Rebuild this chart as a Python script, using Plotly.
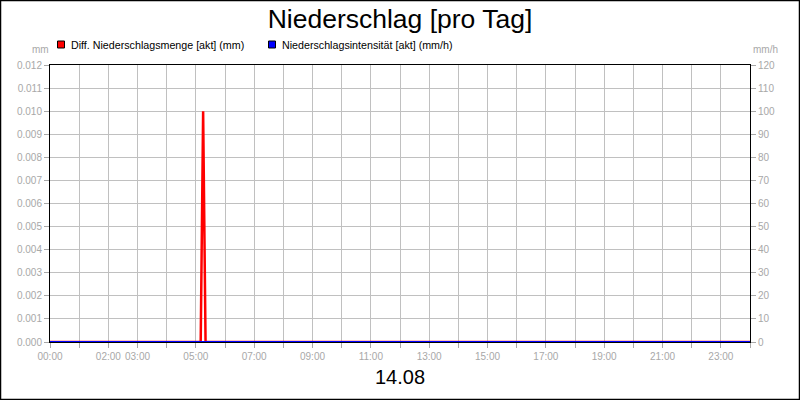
"""
Niederschlag pro Tag - Tagesverlauf 14.08
"""

import plotly.graph_objects as go

# Zeitpunkte in Stunden des Tages
hours = [0.0, 5.0, 5.1667, 5.25, 5.3333, 5.5, 24.0]
# Diff. Niederschlagsmenge [akt] (mm)
menge_mm = [0.0, 0.0, 0.0, 0.010, 0.0, 0.0, 0.0]
# Niederschlagsintensitaet [akt] (mm/h)
intensitaet_mmh = [0.0, 0.0, 0.0, 0.0, 0.0, 0.0, 0.0]

series_names = ["Diff. Niederschlagsmenge [akt] (mm)", "Niederschlagsintensität [akt] (mm/h)"]
series_colors = ["#ff0000", "#0000ff"]

tick_hours = list(range(0, 25))
tick_labels = ["00:00", "", "02:00", "03:00", "", "05:00", "", "07:00", "", "09:00",
               "", "11:00", "", "13:00", "", "15:00", "", "17:00", "", "19:00",
               "", "21:00", "", "23:00", ""]

W, H = 800, 400
L, R, T, B = 50, 50, 65, 58
pw, ph = W - L - R, H - T - B

FONT = "Liberation Sans, Arial, sans-serif"
GREY = "#a8a8a8"
GRID = "#c0c0c0"


def px_x(x):
    """Pixel-x im Bild -> paper-Koordinate"""
    return (x - L) / pw


def px_y(y):
    """Pixel-y im Bild -> paper-Koordinate"""
    return (H - B - y) / ph


fig = go.Figure()

# Intensitaet (rechte Achse) zuerst, damit die rote Linie drueber liegt
fig.add_trace(go.Scatter(
    x=hours, y=intensitaet_mmh, mode="lines", yaxis="y2",
    name=series_names[1], line=dict(color=series_colors[1], width=2)
))
fig.add_trace(go.Scatter(
    x=hours, y=menge_mm, mode="lines",
    name=series_names[0], line=dict(color=series_colors[0], width=2.5)
))

axis_common = dict(
    showline=True, linecolor="black", linewidth=1,
    ticks="outside", ticklen=5, tickcolor=GREY, zeroline=False,
    tickfont=dict(size=10, color=GREY), automargin=False, tickangle=0,
)

fig.update_layout(
    width=W, height=H,
    margin=dict(l=L, r=R, t=T, b=B),
    paper_bgcolor="white", plot_bgcolor="white",
    font=dict(family=FONT, size=10, color=GREY),
    title=dict(text="Niederschlag [pro Tag]", x=0.5, xanchor="center",
               y=1 - 19 / H, yanchor="middle", yref="container",
               font=dict(size=26.5, color="black")),
    showlegend=False,
    xaxis=dict(range=[0, 24], tickvals=tick_hours, ticktext=tick_labels,
               showgrid=True, gridcolor=GRID, gridwidth=1, mirror=True,
               **axis_common),
    yaxis=dict(range=[0, 0.012], dtick=0.001, tickformat=".3f",
               showgrid=True, gridcolor=GRID, gridwidth=1, mirror=True,
               **axis_common),
    yaxis2=dict(range=[0, 120], dtick=10, overlaying="y", side="right",
                showgrid=False, **axis_common),
)

# Legende oben links: Quadrat + Text je Reihe
legend_x = [57.5, 268.5]
for name, color, x0 in zip(series_names, series_colors, legend_x):
    fig.add_shape(type="rect", xref="paper", yref="paper",
                  x0=px_x(x0), x1=px_x(x0 + 7), y0=px_y(48), y1=px_y(41),
                  fillcolor=color, line=dict(color="black", width=1))
    fig.add_annotation(text=name, xref="paper", yref="paper",
                       x=px_x(x0 + 11), y=px_y(45), xanchor="left", yanchor="middle",
                       showarrow=False, font=dict(size=10.7, color="black"))

# Einheiten ueber den Achsen
fig.add_annotation(text="mm", xref="paper", yref="paper", x=px_x(40), y=px_y(49),
                   xanchor="center", yanchor="middle", showarrow=False,
                   font=dict(size=10, color=GREY))
fig.add_annotation(text="mm/h", xref="paper", yref="paper", x=px_x(765), y=px_y(49),
                   xanchor="center", yanchor="middle", showarrow=False,
                   font=dict(size=10, color=GREY))
# Datum unter der x-Achse
fig.add_annotation(text="14.08", xref="paper", yref="paper", x=0.5, y=px_y(377),
                   xanchor="center", yanchor="middle", showarrow=False,
                   font=dict(size=20, color="black"))

# Rahmen um das ganze Bild
fig.add_shape(type="rect", xref="paper", yref="paper",
              x0=px_x(0.5), x1=px_x(W - 0.5), y0=px_y(H - 0.5), y1=px_y(0.5),
              line=dict(color="black", width=1.5), layer="above")

# Body-Rand des Browsers entfernen, damit das Bild bei (0,0) beginnt
fig.write_html("out.html", config={"displayModeBar": False},
               post_script="document.body.style.margin='0';")
